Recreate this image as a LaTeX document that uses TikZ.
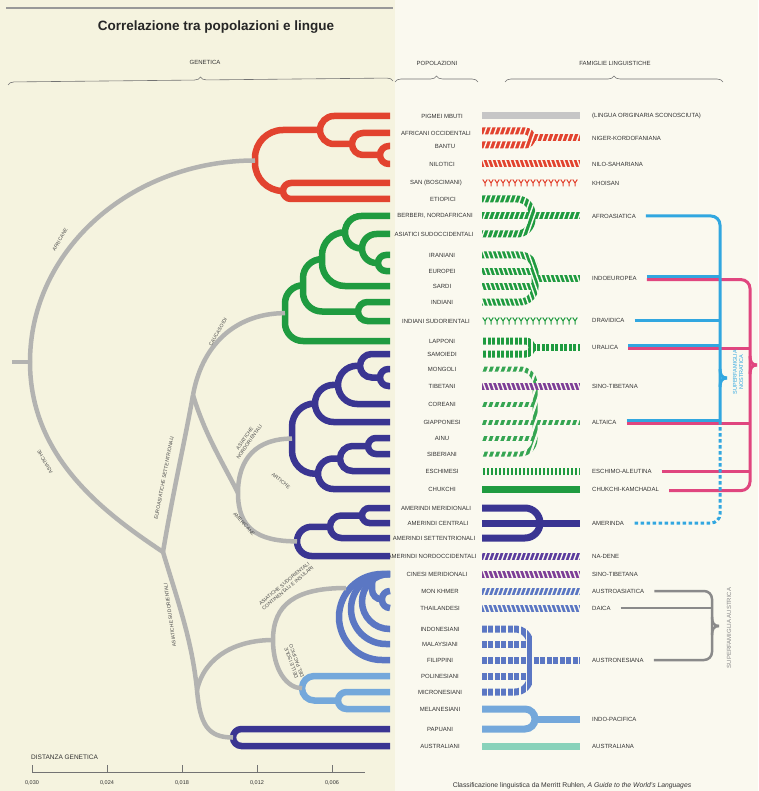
\documentclass[tikz,border=0pt]{standalone}
\usepackage{fontspec}
\setmainfont{Liberation Sans}
\usetikzlibrary{decorations.pathreplacing}

\definecolor{paper}{HTML}{F5F3DF}
\definecolor{paperR}{HTML}{FAF9EF}
\definecolor{treegray}{HTML}{B3B3B1}
\definecolor{afrred}{HTML}{E2432F}
\definecolor{caugreen}{HTML}{1F9B40}
\definecolor{altgreen}{HTML}{35A552}
\definecolor{nordblue}{HTML}{3A3592}
\definecolor{sudblue}{HTML}{5B77C3}
\definecolor{pacblue}{HTML}{74A8DB}
\definecolor{ozteal}{HTML}{88D2BA}
\definecolor{sinopurple}{HTML}{7E3F97}
\definecolor{denepurple}{HTML}{5C3D9E}
\definecolor{unknowngray}{HTML}{C6C6C6}
\definecolor{noscyan}{HTML}{31A7E0}
\definecolor{nospink}{HTML}{E0467F}
\definecolor{ausgray}{HTML}{8A8A8A}

\newdimen\cladeXa \newdimen\cladeYa \newdimen\cladeXb \newdimen\cladeYb

% one fork of the tree: name, style, x of its back, upper child, lower child
\newcommand\clade[5]{%
  \pgfextractx{\cladeXa}{\pgfpointanchor{#4}{center}}%
  \pgfextracty{\cladeYa}{\pgfpointanchor{#4}{center}}%
  \pgfextractx{\cladeXb}{\pgfpointanchor{#5}{center}}%
  \pgfextracty{\cladeYb}{\pgfpointanchor{#5}{center}}%
  \pgfmathsetmacro\cladeR{min(abs(\cladeYa-\cladeYb)/2,\cladeXa-#3,\cladeXb-#3)}%
  \pgfmathsetmacro\cladeM{-(\cladeYa+\cladeYb)/2}%
  \coordinate (#1) at (#3,\cladeM);
  \draw[#2,rounded corners=\cladeR pt] (#4) -| (#1 |- #5) -- (#5);
}

% several bars of one family joined into one: style, top row, bottom row, out row, x of join
\newcommand\merge[5]{%
  \pgfmathsetmacro\mergeR{min((#3-#2)/2,15)}%
  \draw[lang,#1,rounded corners=\mergeR pt] (482,#2) -| (#5,#3) -- (482,#3);
  \draw[lang,#1] (#5,#4) -- (580,#4);
}

% paper coloured stripes cut into the bars: opts, x1, y1, x2, y2, slant, period
\newcommand\stripes[7][]{%
  \begin{scope}
    \clip (#2,#3) rectangle (#4,#5);
    \foreach \k [evaluate=\k as \h using #2-40+\k*#7] in {0,...,50}
      \draw[stripe,#1] (\h,#3) -- ++({#6*(#5-#3)},{#5-#3});
  \end{scope}}

% row of little Y marks
\newcommand\ymarks[2]{%
  \foreach \h in {485,491,...,579}
    \draw[draw=#1,line width=1pt] ({\h-2.3},{#2-3.5}) -- (\h,#2) -- ({\h+2.3},{#2-3.5}) (\h,#2) -- (\h,{#2+3.5});}

\begin{document}
\begin{tikzpicture}[x=1pt,y=-1pt,font=\fontsize{6}{7}\selectfont,text=black!80,
  gen/.style={draw=treegray,line width=4.5pt},
  afr/.style={draw=afrred,line width=6.5pt},
  cau/.style={draw=caugreen,line width=6.5pt},
  nord/.style={draw=nordblue,line width=6.5pt},
  sud/.style={draw=sudblue,line width=6.5pt},
  pac/.style={draw=pacblue,line width=6.5pt},
  pop/.style={inner sep=0pt},
  fam/.style={inner sep=0pt,anchor=west},
  branch/.style={inner sep=0pt,font=\fontsize{5}{5.6}\selectfont,text=black!70},
  brace/.style={decorate,decoration={brace,amplitude=6pt},draw=black!55,line width=0.6pt},
  lang/.style={line width=7pt},
  stripe/.style={draw=paperR,line width=1.4pt},
  barGray/.style={draw=unknowngray},
  barRed/.style={draw=afrred},
  barGreen/.style={draw=caugreen},
  barAlt/.style={draw=altgreen,line width=5pt},
  barSino/.style={draw=sinopurple},
  barDene/.style={draw=denepurple},
  barInd/.style={draw=nordblue},
  barSud/.style={draw=sudblue},
  barPac/.style={draw=pacblue},
  barTeal/.style={draw=ozteal},
  nos/.style={draw=noscyan,line width=3pt},
  pinkl/.style={draw=nospink,line width=3pt},
  ausl/.style={draw=ausgray,line width=2.5pt},
  axis/.style={draw=black!55,line width=0.7pt}]

% paper
\fill[paper] (0,0) rectangle (395,791);
\fill[paperR] (395,0) rectangle (758,791);
\useasboundingbox (0,0) rectangle (758,791);
\draw[black!40,line width=1.5pt] (6,8) -- (393,8);

% headings
\node[font=\bfseries\fontsize{13.5}{15}\selectfont,text=black!85] (title) at (216,27) {Correlazione tra popolazioni e lingue};
\node (hGen) at (205,62) {GENETICA};
\node (hPop) at (437,63) {POPOLAZIONI};
\node (hFam) at (615,63) {FAMIGLIE LINGUISTICHE};
\coordinate (bGenL) at (8,85); \coordinate (bGenR) at (393,81);
\coordinate (bPopL) at (395,82); \coordinate (bPopR) at (478,82);
\coordinate (bFamL) at (505,82); \coordinate (bFamR) at (723,82);
\draw[brace] (bGenL) -- (bGenR);
\draw[brace] (bPopL) -- (bPopR);
\draw[brace] (bFamL) -- (bFamR);

% populations
\foreach \n/\y/\x/\t in {pig/116/442/PIGMEI MBUTI, afo/133/436/AFRICANI OCCIDENTALI,
    ban/146/445/BANTU, nil/164/442/NILOTICI, san/183/436/SAN (BOSCIMANI),
    eti/199/443/ETIOPICI, ber/216/435/{BERBERI, NORDAFRICANI},
    asi/234/434/ASIATICI SUDOCCIDENTALI, ira/255/442/IRANIANI, eur/271/442/EUROPEI,
    sar/286/442/SARDI, ind/302/442/INDIANI, isu/321/436/INDIANI SUDORIENTALI,
    lap/341/442/LAPPONI, sam/354/442/SAMOIEDI, mon/369/442/MONGOLI,
    tib/386/442/TIBETANI, cor/404/442/COREANI, gia/422/442/GIAPPONESI,
    ain/438/442/AINU, sib/454/442/SIBERIANI, esc/471/442/ESCHIMESI,
    chu/489/442/CHUKCHI, amm/508/436/AMERINDI MERIDIONALI,
    amc/523/438/AMERINDI CENTRALI, ams/538/434/AMERINDI SETTENTRIONALI,
    amn/556/432/AMERINDI NORDOCCIDENTALI, cin/574/437/CINESI MERIDIONALI,
    mnk/591/440/MON KHMER, tha/608/440/THAILANDESI, ido/629/440/INDONESIANI,
    mal/644/440/MALAYSIANI, fil/660/440/FILIPPINI, pol/676/440/POLINESIANI,
    mic/692/440/MICRONESIANI, mel/709/440/MELANESIANI, pap/729/440/PAPUANI,
    aus/746/440/AUSTRALIANI}
{
  \coordinate (\n) at (390,\y);
  \node[pop] (p\n) at (\x,\y) {\t};
}

% grey trunk of the tree
\coordinate (stub) at (12,362);
\coordinate (root) at (30,362);
\coordinate (j1) at (163,552);
\coordinate (j2) at (193,395);
\coordinate (j3) at (197,690);
\coordinate (j4) at (238,493);
\coordinate (j5) at (273,640);
\coordinate (ment) at (346,588);

% coloured forks
\clade{r1}{afr}{380}{ban}{nil}
\clade{r2}{afr}{352}{afo}{r1}
\clade{r3}{afr}{320}{pig}{r2}
\clade{r4}{afr}{283}{san}{eti}
\clade{r5}{afr}{255}{r3}{r4}

\clade{g1}{cau}{378}{ira}{eur}
\clade{g2}{cau}{362}{asi}{g1}
\clade{g3}{cau}{345}{ber}{g2}
\clade{g4}{cau}{322}{g3}{sar}
\clade{g5}{cau}{358}{ind}{isu}
\clade{g6}{cau}{303}{g4}{g5}
\clade{g7}{cau}{285}{g6}{lap}

\clade{a1}{nord}{380}{mon}{tib}
\clade{a2}{nord}{360}{sam}{a1}
\clade{a3}{nord}{338}{a2}{cor}
\clade{a4}{nord}{315}{a3}{gia}
\clade{a5}{nord}{368}{ain}{sib}
\clade{a6}{nord}{340}{a5}{esc}
\clade{a7}{nord}{318}{a6}{chu}
\clade{a8}{nord}{292}{a4}{a7}

\clade{b1}{nord}{362}{amm}{amc}
\clade{b2}{nord}{330}{b1}{ams}
\clade{b3}{nord}{297}{b2}{amn}

\clade{m1}{sud}{382}{mnk}{tha}
\clade{m2}{sud}{372}{cin}{m1}
\clade{m3}{sud}{362}{cin}{ido}
\clade{m4}{sud}{351}{cin}{mal}
\clade{m5}{sud}{339}{cin}{fil}

\clade{l1}{pac}{338}{mic}{mel}
\clade{l2}{pac}{302}{pol}{l1}

\clade{d1}{nord}{233}{pap}{aus}

\draw[gen] (stub) -- (root);
\draw[gen] (root) .. controls +(0,-112) and +(-124,0) .. (r5);
\draw[gen] (root) .. controls +(0,95) and +(-60,-40) .. (j1);
\draw[gen] (j1) .. controls +(10,-60) and +(-8,45) .. (j2);
\draw[gen] (j2) .. controls +(10,-55) and +(-45,0) .. (g7);
\draw[gen] (j2) .. controls +(12,40) and +(-15,-30) .. (j4);
\draw[gen] (a8) .. controls +(-35,0) and +(0,-35) .. (j4) .. controls +(0,35) and +(-40,0) .. (b3);
\draw[gen] (j1) .. controls +(15,50) and +(-5,-50) .. (j3);
\draw[gen] (j3) .. controls +(3,35) and +(-25,0) .. (d1);
\draw[gen] (j3) .. controls +(8,-35) and +(-35,0) .. (j5);
\draw[gen] (ment) .. controls +(-50,0) and +(0,-36) .. (j5) .. controls +(0,30) and +(-15,0) .. (l2);

% names of the branches
\node[branch,rotate=60] (nAfr) at (60,240) {AFRICANE};
\node[branch,rotate=120] (nAsi) at (45,462) {ASIATICHE};
\node[branch,rotate=60] (nCau) at (218,332) {CAUCASOIDI};
\node[branch,rotate=79] (nEur) at (164,478) {EUROASIATICHE SETTENTRIONALI};
\node[branch,rotate=98] (nSud) at (170,615) {ASIATICHE SUDORIENTALI};
\node[branch,rotate=55,align=center] (nNor) at (247,440) {ASIATICHE\\NORDORIENTALI};
\node[branch,rotate=-38] (nArt) at (281,481) {ARTICHE};
\node[branch,rotate=-48] (nAme) at (244,524) {AMERICANE};
\node[branch,rotate=40,align=center] (nCon) at (286,586) {ASIATICHE SUDORIENTALI\\CONTINENTALI E INSULARI};
\node[branch,rotate=110,align=center] (nPac) at (294,662) {DELLE ISOLE\\DEL PACIFICO};

% language families
\draw[lang,barGray] (482,116) -- (580,116);
\merge{barRed}{131}{145}{138}{532}
\stripes{482}{126}{582}{150}{-0.35}{5}
\draw[lang,barRed] (482,164) -- (580,164);
\stripes{482}{159}{582}{169}{0.35}{4.5}
\ymarks{afrred}{183}
\merge{barGreen}{199}{234}{216}{532}
\draw[lang,barGreen] (482,216) -- (532,216);
\stripes{482}{194}{582}{239}{-0.35}{5}
\merge{barGreen}{255}{302}{278}{535}
\draw[lang,barGreen] (482,271) -- (535,271) (482,286) -- (535,286);
\stripes{482}{250}{582}{307}{0.35}{4.5}
\ymarks{caugreen}{321}
\merge{barGreen}{341}{354}{347.5}{532}
\stripes{482}{336}{582}{359}{0}{4.5}
\merge{barAlt}{369}{454}{422}{535}
\draw[lang,barAlt] (482,404) -- (535,404) (482,422) -- (535,422) (482,438) -- (535,438);
\stripes[line width=2.2pt]{482}{364}{582}{459}{-0.35}{6}
\draw[lang,barSino] (482,386) -- (580,386);
\stripes{482}{381}{582}{391}{0.35}{4.5}
\draw[lang,barGreen] (482,471) -- (580,471);
\stripes[line width=1.2pt]{482}{466}{582}{476}{0}{4}
\draw[lang,barGreen] (482,489) -- (580,489);
\merge{barInd}{508}{538}{523}{540}
\draw[lang,barInd] (482,523) -- (540,523);
\draw[lang,barDene] (482,556) -- (580,556);
\stripes{482}{551}{582}{561}{-0.35}{4.5}
\draw[lang,barSino] (482,574) -- (580,574);
\stripes{482}{569}{582}{579}{0.35}{4.5}
\draw[lang,barSud] (482,591) -- (580,591);
\stripes{482}{586}{582}{596}{-0.35}{4.5}
\draw[lang,barSud] (482,608) -- (580,608);
\stripes{482}{603}{582}{613}{0.35}{4.5}
\merge{barSud}{629}{692}{660}{530}
\draw[lang,barSud] (482,644) -- (530,644) (482,660) -- (530,660) (482,676) -- (530,676);
\stripes[line width=1.8pt]{482}{624}{582}{697}{0}{6.5}
\merge{barPac}{709}{729}{719}{535}
\draw[lang,barTeal] (482,746) -- (580,746);

\node[fam] (lUnk) at (592,116) {(LINGUA ORIGINARIA SCONOSCIUTA)};
\node[fam] (lNiger) at (592,138) {NIGER-KORDOFANIANA};
\node[fam] (lNilo) at (592,164) {NILO-SAHARIANA};
\node[fam] (lKhoi) at (592,183) {KHOISAN};
\node[fam] (lAfro) at (592,216) {AFROASIATICA};
\node[fam] (lIndo) at (592,278) {INDOEUROPEA};
\node[fam] (lDrav) at (592,320) {DRAVIDICA};
\node[fam] (lUral) at (592,347) {URALICA};
\node[fam] (lTib) at (592,386) {SINO-TIBETANA};
\node[fam] (lAlta) at (592,422) {ALTAICA};
\node[fam] (lEsch) at (592,471) {ESCHIMO-ALEUTINA};
\node[fam] (lChuk) at (592,489) {CHUKCHI-KAMCHADAL};
\node[fam] (lAmer) at (592,523) {AMERINDA};
\node[fam] (lDene) at (592,556) {NA-DENE};
\node[fam] (lSino) at (592,574) {SINO-TIBETANA};
\node[fam] (lAuas) at (592,591) {AUSTROASIATICA};
\node[fam] (lDaic) at (592,608) {DAICA};
\node[fam] (lAusn) at (592,660) {AUSTRONESIANA};
\node[fam] (lPaci) at (592,719) {INDO-PACIFICA};
\node[fam] (lAust) at (592,746) {AUSTRALIANA};

% superfamilies
\coordinate (nosV) at (720,421);
\coordinate (nosTip) at (727,378);
\coordinate (pinkV) at (750,380);
\coordinate (pinkTip) at (757,365);
\coordinate (ausV) at (712,626);
\coordinate (ausTip) at (719,626);

\draw[pinkl,rounded corners=9pt,transform canvas={yshift=-1.6pt}] ([xshift=10pt]lIndo.east) -| (pinkV) |- ([xshift=10pt]lChuk.east);
\foreach \l in {lUral,lAlta}
  \draw[pinkl,transform canvas={yshift=-1.6pt}] ([xshift=10pt]\l.east) -- (\l.east -| pinkV);
\draw[pinkl] ([xshift=10pt]lEsch.east) -- (lEsch.east -| pinkV);
\draw[pinkl] (pinkTip) .. controls +(-5,0) and +(0,6) .. ([shift={(-7,-9)}]pinkTip);
\draw[pinkl] (pinkTip) .. controls +(-5,0) and +(0,-6) .. ([shift={(-7,9)}]pinkTip);

\draw[nos,rounded corners=9pt] ([xshift=10pt]lAfro.east) -| (nosV);
\foreach \l in {lIndo,lUral,lAlta}
  \draw[nos,transform canvas={yshift=1.6pt}] ([xshift=10pt]\l.east) -- (\l.east -| nosV);
\draw[nos] ([xshift=10pt]lDrav.east) -- (lDrav.east -| nosV);
\draw[nos] (nosTip) .. controls +(-5,0) and +(0,6) .. ([shift={(-7,-9)}]nosTip);
\draw[nos] (nosTip) .. controls +(-5,0) and +(0,-6) .. ([shift={(-7,9)}]nosTip);
\draw[nos,dash pattern=on 3.5pt off 2.5pt,rounded corners=9pt] (nosV) |- ([xshift=10pt]lAmer.east);
\node[rotate=90,align=center,text=noscyan,inner sep=0pt,font=\fontsize{5.5}{6.2}\selectfont] (tNos) at (738,372) {SUPERFAMIGLIA\\NOSTRATICA};

\draw[ausl,rounded corners=8pt] ([xshift=10pt]lAuas.east) -| (ausV) |- ([xshift=10pt]lAusn.east);
\draw[ausl] ([xshift=10pt]lDaic.east) -- (lDaic.east -| ausV);
\draw[ausl] (ausTip) .. controls +(-5,0) and +(0,6) .. ([shift={(-7,-9)}]ausTip);
\draw[ausl] (ausTip) .. controls +(-5,0) and +(0,-6) .. ([shift={(-7,9)}]ausTip);
\node[rotate=90,text=ausgray,inner sep=0pt] (tAus) at (729,628) {SUPERFAMIGLIA AUSTRICA};

% scale of genetic distance
\node[anchor=west,inner sep=0pt,font=\fontsize{6.5}{7}\selectfont] (axTitle) at (31,757) {DISTANZA GENETICA};
\coordinate (axL) at (32,772);
\coordinate (axR) at (365,772);
\draw[axis] (axL) -- (axR);
\foreach \x/\t in {32/{0,030},107/{0,024},182/{0,018},257/{0,012},332/{0,006}}
{
  \draw[axis] (\x,772) -- (\x,765);
  \node[inner sep=0pt,font=\fontsize{5.5}{6}\selectfont] (t\x) at (\x,783) {\t};
}

\node[inner sep=0pt,font=\fontsize{6.8}{8}\selectfont] (credit) at (572,786) {Classificazione linguistica da Merritt Ruhlen, \textit{A Guide to the World's Languages}};
\end{tikzpicture}
\end{document}
